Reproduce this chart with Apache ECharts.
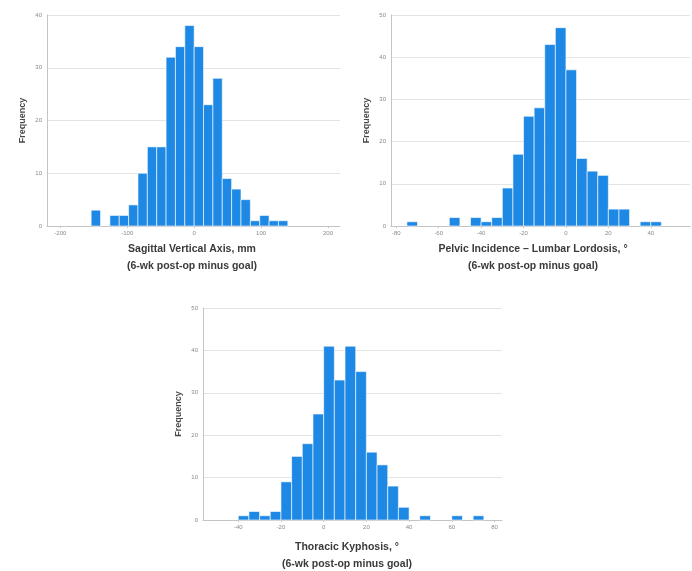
<!DOCTYPE html>
<html>
<head>
<meta charset="utf-8">
<title>Post-op alignment minus goal</title>
<script src="https://cdn.jsdelivr.net/npm/echarts@6/dist/echarts.min.js"></script>
<style>
  html, body { margin: 0; padding: 0; background: #ffffff; }
  #chart { width: 692px; height: 571px; }
</style>
</head>
<body>
<div id="chart"></div>
<script>
// Histogram bins: first edge, bin width and patient counts per bin
const svaBinStart = -154;
const svaBinWidth = 14;
const svaCounts = [3, 0, 2, 2, 4, 10, 15, 15, 32, 34, 38, 34, 23, 28, 9, 7, 5, 1, 2, 1, 1];
const svaTicks = [-200, -100, 0, 100, 200];

const pillBinStart = -75;
const pillBinWidth = 5;
const pillCounts = [1, 0, 0, 0, 2, 0, 2, 1, 2, 9, 17, 26, 28, 43, 47, 37, 16, 13, 12, 4, 4, 0, 1, 1];
const pillTicks = [-80, -60, -40, -20, 0, 20, 40];

const tkBinStart = -40;
const tkBinWidth = 5;
const tkCounts = [1, 2, 1, 2, 9, 15, 18, 25, 41, 33, 41, 35, 16, 13, 8, 3, 0, 1, 0, 0, 1, 0, 1];
const tkTicks = [-40, -20, 0, 20, 40, 60, 80];

const BAR_BLUE = '#1e88e5';
const AXIS_GREY = '#c4c4c4';
const GRID_GREY = '#e4e4e4';
const LABEL_GREY = '#8a8a8a';
const TITLE_COLOR = '#3a3a3a';
const FONT = 'Liberation Sans, Arial, sans-serif';

function toBins(start, width, counts) {
  const rows = [];
  counts.forEach(function (n, i) {
    if (n > 0) rows.push([start + i * width, start + (i + 1) * width, n]);
  });
  return rows;
}

function renderBin(params, api) {
  const top = api.coord([api.value(0), api.value(2)]);
  const base = api.coord([api.value(1), 0]);
  return {
    type: 'rect',
    shape: { x: top[0], y: top[1], width: base[0] - top[0], height: base[1] - top[1] },
    style: { fill: BAR_BLUE, stroke: '#ffffff', lineWidth: 0.6 }
  };
}

function xAxisFor(gridIndex, min, max, ticks) {
  return {
    type: 'value', gridIndex: gridIndex, min: min, max: max,
    axisLine: { show: true, onZero: false, lineStyle: { color: AXIS_GREY, width: 1 } },
    axisTick: { show: true, customValues: ticks, length: 2, lineStyle: { color: AXIS_GREY } },
    axisLabel: { customValues: ticks, fontSize: 6, color: LABEL_GREY, margin: 4, fontFamily: FONT },
    splitLine: { show: false }
  };
}

function yAxisFor(gridIndex, max) {
  return {
    type: 'value', gridIndex: gridIndex, min: 0, max: max, interval: 10,
    name: 'Frequency', nameLocation: 'middle', nameRotate: 90, nameGap: 20,
    nameTextStyle: { fontSize: 9, fontWeight: 'bold', color: '#4a4a4a', fontFamily: FONT },
    axisLine: { show: true, onZero: false, lineStyle: { color: AXIS_GREY, width: 1 } },
    axisTick: { show: false },
    axisLabel: { fontSize: 6, color: LABEL_GREY, margin: 5, fontFamily: FONT },
    splitLine: { show: true, lineStyle: { color: GRID_GREY, width: 1 } }
  };
}

function caption(x, y, text) {
  return {
    type: 'text', x: x, y: y,
    style: {
      text: text, fill: TITLE_COLOR, font: 'bold 10.5px ' + FONT,
      textAlign: 'center', textVerticalAlign: 'middle'
    }
  };
}

const chart = echarts.init(document.getElementById('chart'), null, { renderer: 'canvas' });

chart.setOption({
  backgroundColor: '#ffffff',
  animation: false,
  grid: [
    { left: 47, top: 15, width: 293, height: 211 },
    { left: 391, top: 15, width: 299, height: 211 },
    { left: 203, top: 308, width: 299, height: 212 }
  ],
  xAxis: [
    xAxisFor(0, -220, 218, svaTicks),
    xAxisFor(1, -82.5, 58.5, pillTicks),
    xAxisFor(2, -56.5, 83.5, tkTicks)
  ],
  yAxis: [
    yAxisFor(0, 40),
    yAxisFor(1, 50),
    yAxisFor(2, 50)
  ],
  series: [
    {
      type: 'custom', name: 'Sagittal Vertical Axis', xAxisIndex: 0, yAxisIndex: 0,
      renderItem: renderBin, encode: { x: [0, 1], y: 2 },
      data: toBins(svaBinStart, svaBinWidth, svaCounts)
    },
    {
      type: 'custom', name: 'PI-LL', xAxisIndex: 1, yAxisIndex: 1,
      renderItem: renderBin, encode: { x: [0, 1], y: 2 },
      data: toBins(pillBinStart, pillBinWidth, pillCounts)
    },
    {
      type: 'custom', name: 'Thoracic Kyphosis', xAxisIndex: 2, yAxisIndex: 2,
      renderItem: renderBin, encode: { x: [0, 1], y: 2 },
      data: toBins(tkBinStart, tkBinWidth, tkCounts)
    }
  ],
  graphic: [
    caption(192, 249, 'Sagittal Vertical Axis, mm'),
    caption(192, 266, '(6-wk post-op minus goal)'),
    caption(533, 249, 'Pelvic Incidence \u2013 Lumbar Lordosis, \u00b0'),
    caption(533, 266, '(6-wk post-op minus goal)'),
    caption(347, 547, 'Thoracic Kyphosis, \u00b0'),
    caption(347, 564, '(6-wk post-op minus goal)')
  ]
});
</script>
</body>
</html>
